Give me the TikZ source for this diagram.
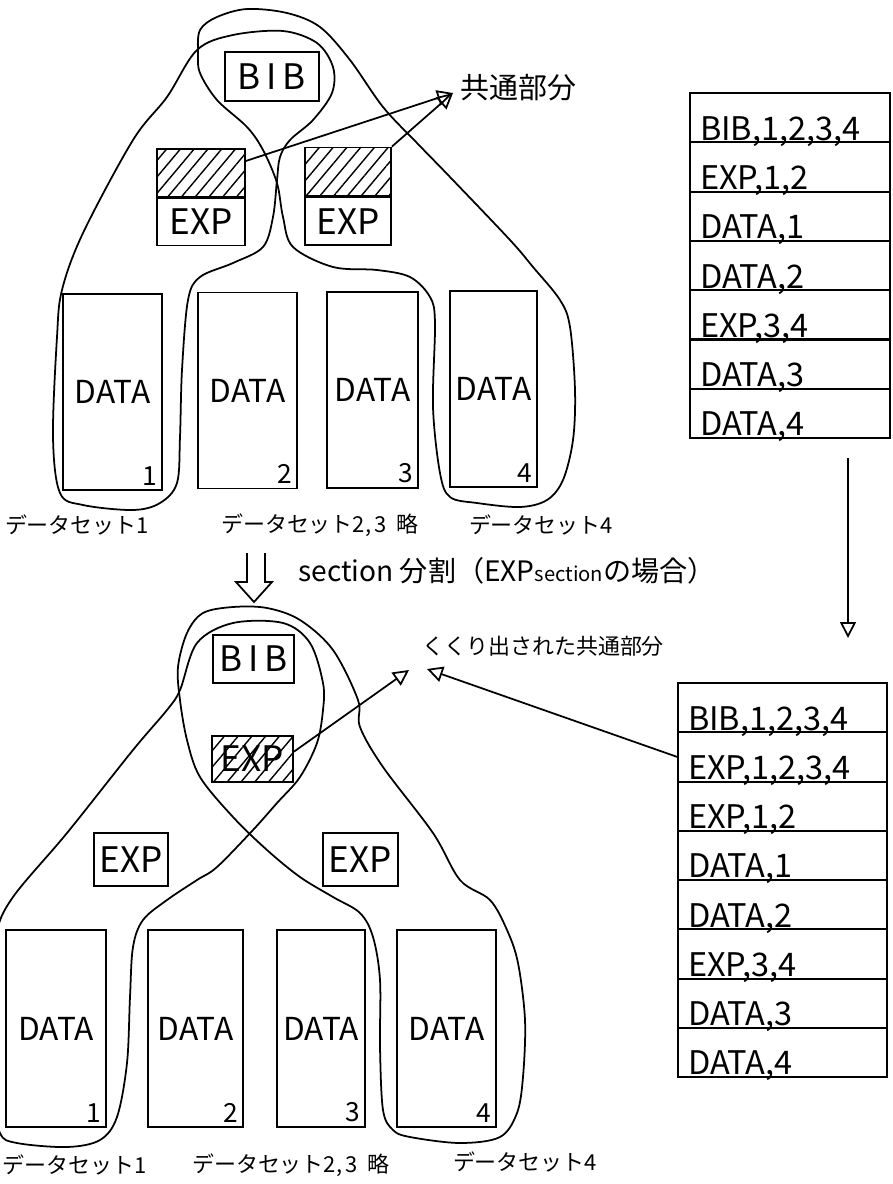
\documentclass[tikz,border=0pt]{standalone}
\usepackage{fontspec}
\setmainfont{Noto Sans CJK JP}
\usetikzlibrary{positioning,arrows.meta,patterns.meta}
\tikzset{
  blk/.style   ={rectangle, draw, line width=1pt, inner sep=0pt,
                 font=\fontsize{20}{20}\selectfont},
  hatch/.style ={blk, pattern={Lines[angle=50,distance=6pt,line width=0.8pt]}},
  dat/.style   ={blk, minimum width=1.9cm, minimum height=3.92cm,
                 font=\fontsize{18}{18}\selectfont},
  num/.style   ={anchor=south east, inner sep=3pt, font=\fontsize{15}{15}\selectfont},
  tabrow/.style={rectangle, draw, line width=1pt, text width=3.6cm, align=left,
                 inner xsep=0.2cm, inner ysep=0.04cm, text height=0.9cm, text depth=0pt,
                 font=\fontsize{18.5}{18.5}\selectfont},
  lbl/.style   ={inner sep=0pt, font=\fontsize{12.5}{12.5}\selectfont},
  hull/.style  ={line width=1pt, smooth cycle, tension=0.55},
  fl/.style    ={line width=1pt, -{Triangle[open,length=9pt,width=9pt]}}
}
\begin{document}
\begin{tikzpicture}[x=0.02cm, y=-0.02cm]
  \useasboundingbox (0,0) rectangle (893,1184);

  % before section split
  \node[blk, minimum width=1.88cm, minimum height=0.98cm] (bib) at (272,76.5) {B\,I\,B};
  \node[hatch, minimum width=1.76cm, minimum height=0.96cm] (hatchL) at (201,173) {};
  \node[blk, minimum width=1.76cm, minimum height=0.94cm, below=0pt of hatchL] (expL) {EXP};
  \node[hatch, minimum width=1.72cm, minimum height=0.96cm] (hatchR) at (348,171.5) {};
  \node[blk, minimum width=1.72cm, minimum height=0.96cm, below=0pt of hatchR] (expR) {EXP};

  \node[dat, minimum width=1.98cm] (d1) at (112.5,392) {DATA};
  \node[dat, minimum width=1.98cm] (d2) at (247.5,390.5) {DATA};
  \node[dat, minimum width=1.82cm] (d3) at (372.5,390) {DATA};
  \node[dat, minimum width=1.74cm] (d4) at (493.5,389) {DATA};
  \foreach \i in {1,...,4}
    \node[num] (dn\i) at (d\i.south east) {\i};

  \node[lbl] (set1) at (77,525) {データセット1};
  \node[lbl] (set23) at (320,525) {データセット2,\,3\ \ 略};
  \node[lbl] (set4) at (541,525) {データセット4};

  \draw[hull] plot coordinates {(133,510) (83,505) (60,493) (53,437) (57,337) (62,290)
    (83,233) (133,140) (167,97) (197,50) (233,35) (283,31) (317,43) (333,67) (332,93)
    (313,120) (290,140) (280,157) (277,180) (273,217) (263,247) (233,263) (200,277)
    (188,300) (182,370) (180,437) (177,483) (160,503)};
  \draw[hull] plot coordinates {(200,30) (217,17) (247,9) (287,13) (320,27) (350,60)
    (383,107) (417,143) (450,177) (510,240) (533,267) (560,300) (570,327) (575,390)
    (573,440) (563,480) (547,500) (520,507) (477,503) (450,497) (440,473) (433,407)
    (435,323) (430,297) (410,277) (377,270) (333,267) (293,247) (283,217) (277,183)
    (263,150) (247,127) (217,100) (200,73) (198,53)};

  \node[lbl, anchor=west, font=\fontsize{16.5}{16.5}\selectfont] (common) at (460,88) {共通部分};
  \coordinate (tipU) at (453,93);
  \draw[fl] (hatchL.15) -- (tipU);
  \draw[fl] (hatchR.north east) -- (tipU);

  \foreach \t [count=\i] in {{BIB,1,2,3,4},{EXP,1,2},{DATA,1},{DATA,2},{EXP,3,4},{DATA,3},{DATA,4}}
    \node[tabrow] (u\i) at (790,{93+49.3*(\i-0.5)}) {\t};

  % split
  \draw[line width=1pt] (247,553) -- (247,582) -- (236,582) -- (254,602) -- (272,582)
    -- (265,582) -- (265,553);
  \node[lbl, anchor=west, font=\fontsize{16}{16}\selectfont] (split) at (298,571)
    {section 分割（EXP{\fontsize{11.5}{11.5}\selectfont section}の場合）};
  \coordinate (down1) at (848,458);
  \coordinate (down2) at (848,638);
  \draw[fl] (down1) -- (down2);

  % after section split
  \node[blk, minimum width=1.62cm, minimum height=0.96cm] (bib2) at (253.5,659) {B\,I\,B};
  \node[hatch, minimum width=1.62cm, minimum height=0.92cm] (expC) at (252.5,759) {EXP};
  \node[blk, minimum width=1.48cm, minimum height=1.06cm] (expA) at (131,859.5) {EXP};
  \node[blk, minimum width=1.5cm, minimum height=1.06cm] (expB) at (360.5,859.5) {EXP};

  \node[dat, minimum width=2cm, minimum height=3.94cm] (e1) at (56,1028.5) {DATA};
  \node[dat, minimum width=1.9cm, minimum height=3.94cm] (e2) at (195.5,1028.5) {DATA};
  \node[dat, minimum width=1.76cm, minimum height=3.94cm] (e3) at (321,1028.5) {DATA};
  \node[dat, minimum width=1.98cm, minimum height=3.94cm] (e4) at (446.5,1028.5) {DATA};
  \foreach \i in {1,...,4}
    \node[num] (en\i) at (e\i.south east) {\i};

  \node[lbl, anchor=west] (set1b) at (2,1165) {データセット1};
  \node[lbl] (set23b) at (291,1165) {データセット2,\,3\ \ 略};
  \node[lbl] (set4b) at (525,1162) {データセット4};

  \draw[hull] plot coordinates {(100,1140) (67,1147) (17,1143) (0,1133) (-8,1090)
    (-10,1000) (-4,935) (13,897) (67,833) (133,750) (167,710) (180,690) (197,643)
    (233,623) (283,623) (310,643) (323,683) (323,710) (317,743) (300,777) (277,803)
    (253,830) (217,867) (197,880) (167,900) (143,920) (133,947) (130,997) (127,1063)
    (117,1117)};
  \draw[hull] plot coordinates {(203,613) (233,607) (267,608) (300,620) (333,650)
    (358,700) (360,727) (383,767) (433,833) (460,880) (490,900) (507,930) (518,963)
    (525,1020) (523,1077) (517,1113) (500,1137) (460,1143) (410,1137) (393,1130)
    (383,1110) (380,1047) (380,980) (373,937) (360,913) (333,897) (300,877) (267,850)
    (233,817) (200,777) (187,740) (180,700) (178,667) (187,633)};

  \node[lbl, anchor=west] (outcommon) at (422,646) {くくり出された共通部分};
  \coordinate (tipA) at (409,670);
  \coordinate (tipB) at (427,669);

  \foreach \t [count=\i] in {{BIB,1,2,3,4},{EXP,1,2,3,4},{EXP,1,2},{DATA,1},{DATA,2},{EXP,3,4},{DATA,3},{DATA,4}}
    \node[tabrow, text width=3.78cm] (l\i) at (782.5,{683+49.25*(\i-0.5)}) {\t};

  \draw[fl] (expC.10) -- (tipA);
  \draw[fl] (l2.west) -- (tipB);
\end{tikzpicture}
\end{document}
